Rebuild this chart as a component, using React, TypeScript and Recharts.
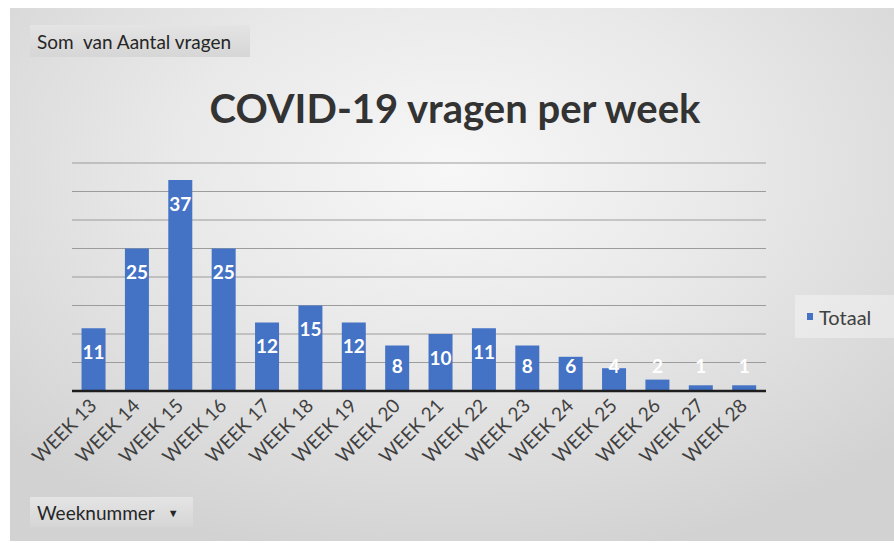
import { BarChart, Bar, XAxis, YAxis, CartesianGrid, LabelList } from "recharts";

const weeks = [
  "WEEK 13", "WEEK 14", "WEEK 15", "WEEK 16", "WEEK 17", "WEEK 18", "WEEK 19", "WEEK 20",
  "WEEK 21", "WEEK 22", "WEEK 23", "WEEK 24", "WEEK 25", "WEEK 26", "WEEK 27", "WEEK 28",
];
const totaal = [11, 25, 37, 25, 12, 15, 12, 8, 10, 11, 8, 6, 4, 2, 1, 1];
const yTicks = [0, 5, 10, 15, 20, 25, 30, 35, 40];

const data = weeks.map((w, i) => ({ week: w, Totaal: totaal[i] }));

const FONT = "Lato, 'Open Sans', sans-serif";
const BASE_Y = 391;

// Excel puts the label just inside the top, but never lower than a fixed line
const BarLabel = (props: any) => {
  const { x, y, width, value } = props;
  const ly = Math.min(y + 23, BASE_Y - 26);
  return (
    <text
      x={x + width / 2}
      y={ly}
      textAnchor="middle"
      dominantBaseline="central"
      fill="#fff"
      fontFamily={FONT}
      fontWeight={700}
      fontSize={19}
    >
      {value}
    </text>
  );
};

const WeekTick = (props: any) => {
  const { x, y, payload } = props;
  const tx = x + 4;
  const ty = y + 8;
  return (
    <text
      x={tx}
      y={ty}
      transform={`rotate(-45, ${tx}, ${ty})`}
      textAnchor="end"
      fill="#404040"
      fontFamily={FONT}
      fontSize={19}
    >
      {payload.value}
    </text>
  );
};

const buttonStyle: any = {
  position: "absolute",
  background: "linear-gradient(#e4e4e4, #d6d6d6)",
  fontFamily: FONT,
  fontSize: 19,
  color: "#262626",
  display: "flex",
  alignItems: "center",
  paddingLeft: 7,
  boxSizing: "border-box",
};

export default function App() {
  return (
    <div style={{ position: "absolute", left: 0, top: 0, width: 894, height: 543, background: "#fff", overflow: "hidden" }}>
      <div
        style={{
          position: "absolute",
          left: 10,
          top: 8,
          width: 884,
          height: 533,
          background: "radial-gradient(ellipse 70% 75% at 50% 30%, #f7f7f7 0%, #e9e9e9 45%, #d2d2d2 100%)",
        }}
      />
      <div style={{ ...buttonStyle, left: 30, top: 25, width: 220, height: 32 }}>Som&nbsp; van Aantal vragen</div>
      <div style={{ ...buttonStyle, left: 30, top: 497, width: 163, height: 30 }}>
        Weeknummer
        <span style={{ marginLeft: 13, fontSize: 11 }}>▼</span>
      </div>
      <div
        style={{
          position: "absolute",
          left: 0,
          width: 910,
          top: 83,
          textAlign: "center",
          fontFamily: FONT,
          fontWeight: 700,
          fontSize: 40,
          color: "#333",
          lineHeight: "50px",
        }}
      >
        COVID-19 vragen per week
      </div>
      <div
        style={{
          position: "absolute",
          left: 795,
          top: 295,
          width: 99,
          height: 43,
          display: "flex",
          alignItems: "center",
          paddingLeft: 12,
          boxSizing: "border-box",
          background: "rgba(255,255,255,0.35)",
          fontFamily: FONT,
          fontSize: 20,
          color: "#404040",
        }}
      >
        <span style={{ width: 6, height: 7, background: "#4472c4", marginRight: 6, display: "inline-block" }} />
        Totaal
      </div>
      <div style={{ position: "absolute", left: 0, top: 0 }}>
        <BarChart width={894} height={543} data={data} margin={{ top: 163, right: 128, bottom: 0, left: 72 }} barCategoryGap="22%">
          <CartesianGrid vertical={false} stroke="#9c9c9c" strokeWidth={1.2} />
          <YAxis hide domain={[0, 40]} ticks={yTicks} />
          <XAxis
            dataKey="week"
            axisLine={{ stroke: "#1e1e1e", strokeWidth: 2.5 }}
            tickLine={false}
            interval={0}
            tick={<WeekTick />}
            height={152}
          />
          <Bar dataKey="Totaal" fill="#4472c4" isAnimationActive={false}>
            <LabelList dataKey="Totaal" content={<BarLabel />} />
          </Bar>
        </BarChart>
      </div>
    </div>
  );
}
